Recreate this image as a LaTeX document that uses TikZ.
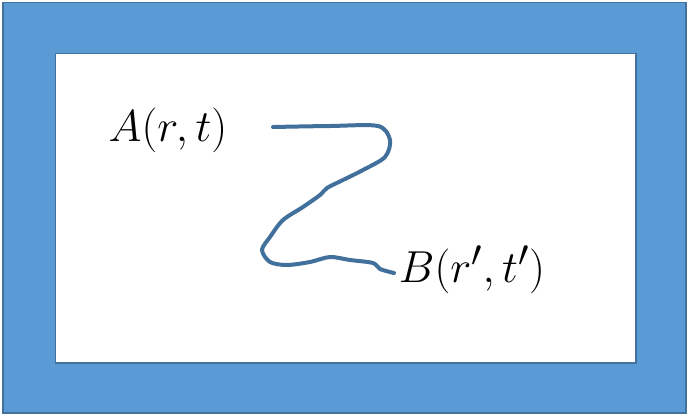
\documentclass[tikz,border=0pt]{standalone}
\usepackage{xcolor}
\definecolor{framefill}{HTML}{5B9BD5}
\definecolor{frameline}{HTML}{41719C}
\definecolor{pathcol}{HTML}{41709C}
\tikzset{label text/.style={font=\Huge,scale=1.8,transform shape}}
\begin{document}
\begin{tikzpicture}[x=1pt,y=-1pt]
\useasboundingbox (0,0) rectangle (688,415);
\draw[fill=framefill,draw=frameline,line width=1.5pt] (3,2.5) rectangle (686,413);
\draw[fill=white,draw=frameline,line width=1.5pt] (55.5,53.5) rectangle (636,363);
\node[label text] (A) at (168,130) {$A(r,t)$};
\node[label text] (B) at (472,270) {$B(r',t')$};
\coordinate (start) at (273,127);
\coordinate (end) at (394,273);
\draw[pathcol,line width=4pt,line cap=round,line join=round] plot[smooth,tension=0.5] coordinates {
(start) (330,126) (378,126) (390,140) (385,157) (363,170) (343,180) (327,188) (320,195)
(303,207) (283,220) (270,237) (262,250) (270,262) (287,265) (310,262) (330,257)
(350,260) (373,263) (380,269) (end)};
\end{tikzpicture}
\end{document}
